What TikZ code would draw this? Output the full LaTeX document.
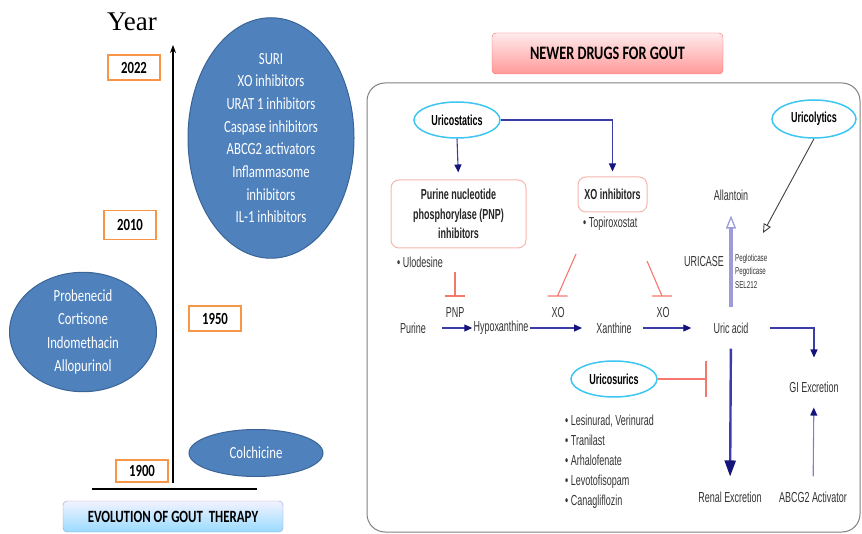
\documentclass[tikz,border=0pt]{standalone}
\usepackage{fontspec}
\setmainfont{Liberation Serif}
\newfontfamily\calfont[FakeStretch=0.75]{Carlito}
\newfontfamily\arfont[FakeStretch=0.62]{Liberation Sans}
\usetikzlibrary{shapes.geometric, arrows.meta, positioning}

\definecolor{ovalblue}{HTML}{4F81BD}
\definecolor{ovalrim}{HTML}{3A6496}
\definecolor{yearorange}{HTML}{F79646}
\definecolor{flowblue}{HTML}{3C3CA8}
\definecolor{tipnavy}{HTML}{14147A}
\definecolor{inhred}{HTML}{F4786E}
\definecolor{classcyan}{HTML}{3CC6F2}
\definecolor{enzpink}{HTML}{F6B6AE}
\definecolor{uricase}{HTML}{9C9CDA}
\definecolor{inkgray}{HTML}{333333}

\begin{document}
\begin{tikzpicture}
% style
	[x=1pt, y=-1pt,
	era/.style={ellipse, draw=ovalrim, fill=ovalblue, line width=1pt, inner sep=0pt, text=white, align=center, font=\calfont\fontsize{17}{22.7}\selectfont},
	yearbox/.style={rectangle, draw=yearorange, fill=white, line width=1.4pt, inner sep=0pt, minimum width=52pt, minimum height=25pt, font=\calfont\bfseries\fontsize{17}{19}\selectfont},
	banner/.style={rectangle, rounded corners=4pt, inner sep=0pt, font=\calfont\bfseries\fontsize{17.2}{20}\selectfont},
	drugclass/.style={ellipse, draw=classcyan, fill=white, line width=1.5pt, inner sep=0pt, minimum width=86pt, minimum height=36pt, font=\arfont\bfseries\fontsize{14.5}{16}\selectfont},
	enzbox/.style={rectangle, rounded corners=8pt, draw=enzpink, fill=white, line width=1pt, inner sep=0pt, align=center, text=black!85, font=\arfont\bfseries\fontsize{14.5}{19.5}\selectfont},
	compound/.style={inner sep=1pt, text=inkgray, font=\arfont\fontsize{14.5}{16}\selectfont},
	druglist/.style={inner sep=0pt, text=inkgray, align=left, font=\arfont\fontsize{14.5}{20}\selectfont},
	flow/.style={draw=flowblue, line width=1.1pt, -{Triangle[length=8pt, width=7pt, color=tipnavy]}},
	blocker/.style={draw=inhred, line width=1.1pt}]

	\useasboundingbox (0,0) rectangle (862,534);

	% timeline
	\node (year) at (132,21.5) {\fontsize{27}{30}\selectfont Year};
	\coordinate (tbase) at (173,483);
	\coordinate (ttop) at (173,45);
	\coordinate (groundl) at (92,489);
	\coordinate (groundr) at (257,489);
	\draw [line width=1.3pt, -{Stealth[length=8pt, width=6pt]}] (tbase) -- (ttop);
	\draw [line width=2.6pt] (groundl) -- (groundr);

	\node [yearbox] (y2022) at (134,67.5) {2022};
	\node [yearbox, minimum height=29pt] (y2010) at (130,225) {2010};
	\node [yearbox] (y1950) at (215,318.5) {1950};
	\node [yearbox, minimum height=22pt] (y1900) at (142,471) {1900};

	\node [era, minimum width=166pt, minimum height=190pt] (newera) at (271,138) {SURI\\XO inhibitors\\URAT 1 inhibitors\\Caspase inhibitors\\ABCG2 activators\\Inflammasome\\inhibitors\\IL-1 inhibitors};
	\node [era, minimum width=147pt, minimum height=116pt, font=\calfont\fontsize{17}{23.3}\selectfont] (midera) at (83,332) {Probenecid\\Cortisone\\Indomethacin\\Allopurinol};
	\node [era, minimum width=134pt, minimum height=47pt] (oldera) at (256,453) {Colchicine};

	\node [banner, draw=blue!30!gray!60, top color=blue!5, bottom color=blue!35!cyan!40, minimum width=220pt, minimum height=31pt] (evol) at (173,516.5) {EVOLUTION OF GOUT\ \ THERAPY};

	% pathway panel
	\node [draw=gray, line width=1pt, rounded corners=18pt, minimum width=493pt, minimum height=449pt, inner sep=0pt] (panel) at (613.5,307.5) {};
	\node [banner, draw=red!60, top color=red!8, bottom color=red!40, minimum width=231pt, minimum height=41pt, font=\calfont\bfseries\fontsize{19}{22}\selectfont] (newer) at (607.5,53.5) {NEWER DRUGS FOR GOUT};

	\node [drugclass] (ucst) at (457,120) {Uricostatics};
	\node [drugclass, minimum width=84pt, minimum height=38pt] (ucly) at (814,119) {Uricolytics};
	\node [drugclass] (ucsu) at (614,379) {Uricosurics};

	\node [enzbox, minimum width=135pt, minimum height=68pt] (pnpbox) at (458.5,214) {Purine nucleotide\\phosphorylase (PNP)\\inhibitors};
	\node [enzbox, minimum width=69pt, minimum height=35pt] (xobox) at (612.5,194.5) {XO inhibitors};
	\node [druglist, anchor=west] (ulod) at (397,262) {• Ulodesine};
	\node [druglist, anchor=west] (topi) at (583,224) {• Topiroxostat};

	\node [compound] (purine) at (413,328) {Purine};
	\node [compound] (hypox) at (501,328) {Hypoxanthine};
	\node [compound] (xanth) at (614,328) {Xanthine};
	\node [compound] (uric) at (731,328) {Uric acid};
	\node [compound] (allan) at (731,195) {Allantoin};
	\node [compound] (renal) at (730,497) {Renal Excretion};
	\node [compound] (giex) at (814,387) {GI Excretion};
	\node [compound] (abcg) at (813,497) {ABCG2 Activator};
	\node [compound] (pnp) at (455,313) {PNP};
	\node [compound] (xo1) at (558,313) {XO};
	\node [compound] (xo2) at (663,313) {XO};
	\node [compound] (urica) at (704,262) {URICASE};
	\node [compound, align=left, anchor=west, font=\arfont\fontsize{10}{13.5}\selectfont] (pegl) at (734,271) {Pegloticase\\Pegoticase\\SEL212};
	\node [druglist, anchor=west] (surilist) at (565,462) {• Lesinurad, Verinurad\\• Tranilast\\• Arhalofenate\\• Levotofisopam\\• Canagliflozin};

	% arrows
	\draw [flow, shorten >=7pt] (ucst.south) -- (pnpbox.north);
	\draw [flow, shorten >=5pt] (ucst.east) -| (xobox.north);
	\path [flow] (purine) edge [shorten <=15pt] (hypox)
	             (hypox) edge [shorten >=13pt] (xanth)
	             (xanth) edge [shorten <=10pt, shorten >=21pt] (uric);
	\draw [flow, shorten <=20pt, shorten >=23pt] (uric.east) -| (giex.north);
	\draw [flow, line width=2.4pt, -{Triangle[length=16pt, width=11pt, color=tipnavy]}, shorten <=14pt, shorten >=14pt] (uric) -- (renal);
	\draw [flow, draw=uricase!70!flowblue, shorten <=14pt, shorten >=14pt] (abcg) -- (giex);
	\draw [draw=uricase, line width=3.2pt, -{Triangle[open, length=13pt, width=10pt, line width=1.3pt]}, shorten <=14pt, shorten >=14pt] (uric) -- (allan);

	\coordinate (lysend) at (763,233);
	\draw [draw=black!75, line width=0.9pt, -{Triangle[open, length=9pt, width=8pt]}] (ucly.south) -- (lysend);

	% inhibition
	\coordinate (pnpcut) at (455,272);
	\coordinate (pnpbar) at (455,296);
	\coordinate (xocut1) at (576,254);
	\coordinate (xobar1) at (557.5,296);
	\coordinate (xocut2) at (647,261);
	\coordinate (xobar2) at (662,296);
	\coordinate (surbar) at (706,379);
	\draw [blocker] (pnpcut) -- (pnpbar) ([xshift=-10pt]pnpbar) -- ([xshift=10pt]pnpbar);
	\draw [blocker] (xocut1) -- (xobar1) ([xshift=-10pt]xobar1) -- ([xshift=10pt]xobar1);
	\draw [blocker] (xocut2) -- (xobar2) ([xshift=-10pt]xobar2) -- ([xshift=10pt]xobar2);
	\draw [blocker] (ucsu.east) -- (surbar) ([yshift=-18pt]surbar) -- ([yshift=18pt]surbar);
\end{tikzpicture}
\end{document}
